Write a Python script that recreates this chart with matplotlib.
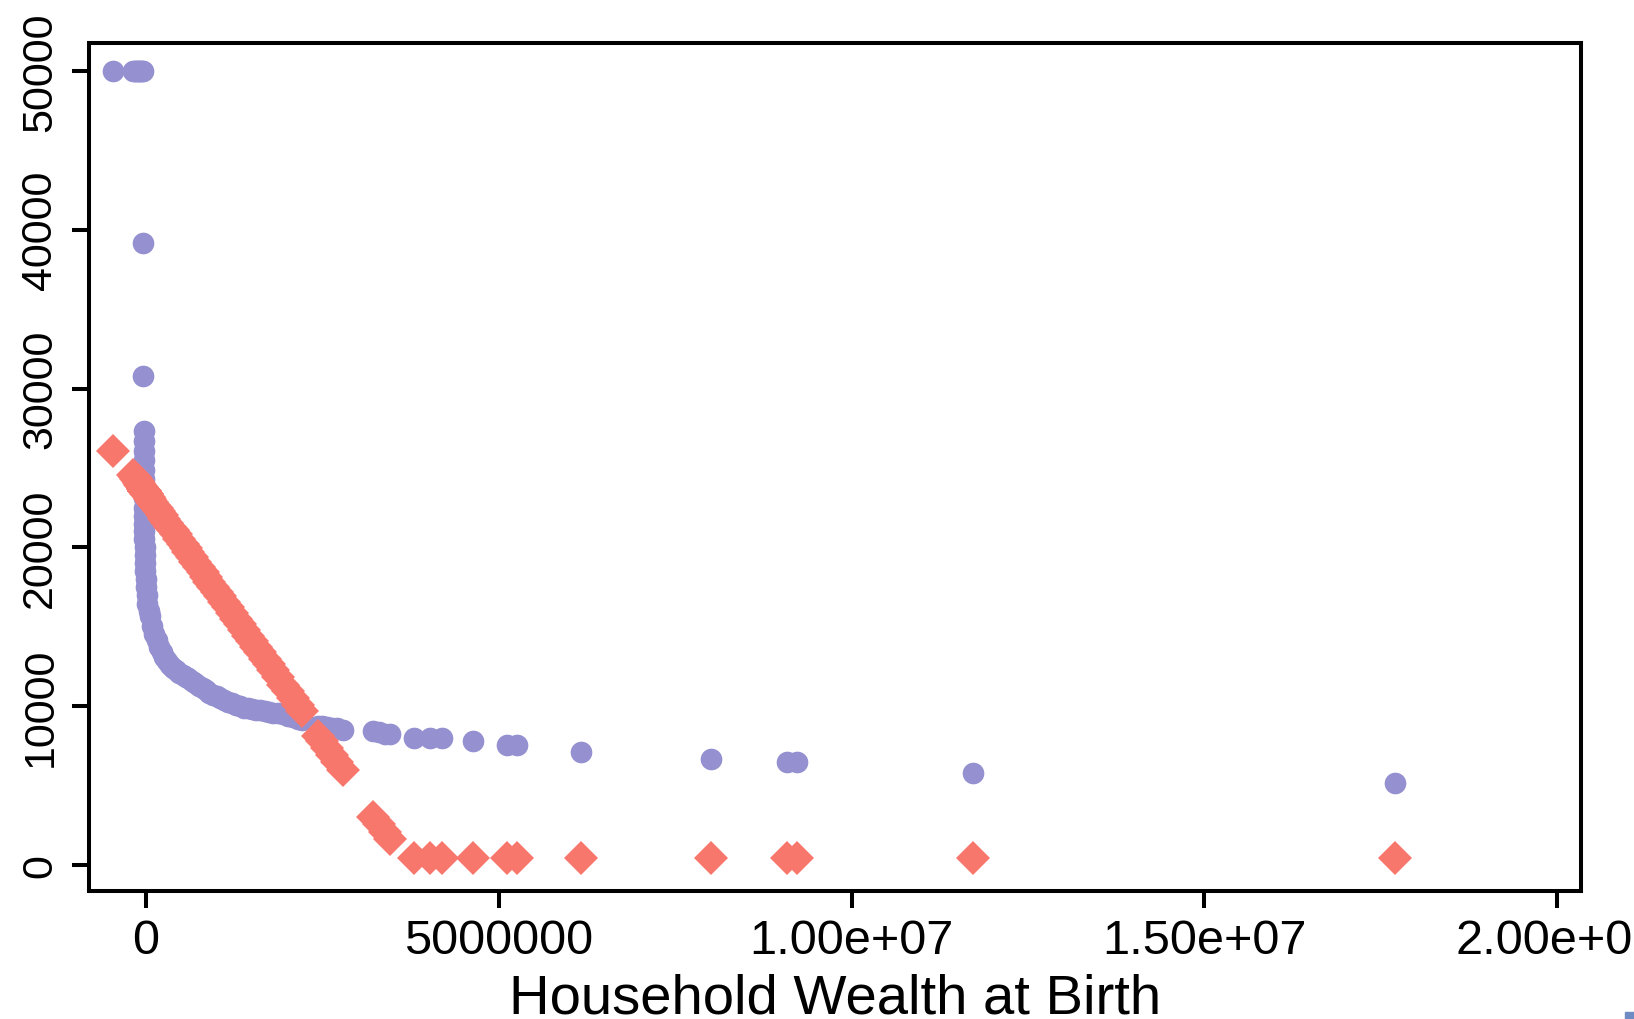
import matplotlib
matplotlib.use('Agg')
import matplotlib.pyplot as plt
from matplotlib.patches import Rectangle

plt.rcParams['font.family'] = ['Liberation Sans', 'DejaVu Sans']

# ---- data ----
wealth = [
    -470000, -184000, -160000, -140000, -120000, -100000, -80000, -60000, -42000,
    -40000, -38000,
    -36000, -35000, -34000, -33000, -32000, -31000, -30000, -29000, -28000,
    -27000, -26000, -25000, -24000, -22000, -20000, -18000,
    -10000, 0, 5000, 10000, 14000,
    40000, 61000, 90000, 118000, 150000, 185000, 222000, 260000, 300000, 340000,
    378000, 420000, 470000, 520000, 560000, 600000, 650000, 700000, 750000, 800000,
    850000, 898000, 950000, 1000000, 1050000, 1105000, 1160000, 1220000, 1280000, 1330000,
    1389000, 1450000, 1500000, 1560000, 1616000, 1680000, 1740000, 1800000, 1870000, 1946000,
    2010000, 2080000, 2150000, 2210000,
    2440000, 2500000, 2570000, 2640000, 2700000, 2790000,
    3220000, 3300000, 3380000, 3450000,
    3800000, 4020000, 4200000, 4630000, 5120000, 5260000, 6160000, 8010000,
    9080000, 9230000, 11720000, 17700000,
]

pred_purple = [
    50000, 50000, 50000, 50000, 50000, 50000, 50000, 50000, 50000,
    39170, 30790,
    27330, 26700, 26100, 25500, 24900, 24300, 23700, 23100, 22500,
    22000, 21500, 21000, 20500, 20000, 19500, 19000,
    18500, 18000, 17500, 17000, 16440,
    16000, 15700, 15050, 14550, 14150, 13750, 13410, 13100, 12850, 12600,
    12400, 12250, 12100, 11950, 11850, 11750, 11600, 11450, 11300, 11150,
    11000, 10850, 10730, 10620, 10500, 10390, 10290, 10190, 10090, 10000,
    9905, 9860, 9820, 9770, 9730, 9680, 9640, 9590, 9540, 9490,
    9400, 9300, 9200, 9100,
    8780, 8740, 8700, 8650, 8600, 8500,
    8410, 8350, 8280, 8220,
    8000, 8000, 8000, 7810, 7560, 7560, 7120, 6680,
    6490, 6490, 5790, 5160,
]

pred_red = [
    26070, 24560, 24410, 24290, 24160, 24040, 23910, 23790, 23680,
    23660, 23650,
    23640, 23630, 23630, 23620, 23610, 23610, 23600, 23590, 23590,
    23580, 23570, 23570, 23560, 23550, 23540, 23530,
    23480, 23420, 23390, 23360, 23330,
    23170, 23040, 22860, 22690, 22490, 22270, 22040, 21810, 21560, 21310,
    21080, 20820, 20510, 20200, 19950, 19700, 19390, 19080, 18770, 18460,
    18150, 17850, 17530, 17220, 16910, 16570, 16230, 15860, 15480, 15170,
    14810, 14430, 14120, 13750, 13400, 13000, 12630, 12260, 11830, 11350,
    10960, 10520, 10090, 9720,
    8150, 7780, 7350, 6900, 6500, 5980,
    3050, 2600, 2100, 1650,
    450, 450, 450, 450, 450, 450, 450, 450,
    450, 450, 450, 450,
]

x_ticks = [0, 5000000, 10000000, 15000000, 20000000]
x_ticklabels = ["0", "5000000", "1.00e+07", "1.50e+07", "2.00e+07"]
y_ticks = [0, 10000, 20000, 30000, 40000, 50000]
y_ticklabels = ["0", "10000", "20000", "30000", "40000", "50000"]
x_label = "Household Wealth at Birth"

# ---- figure ----
fig = plt.figure(figsize=(16.34, 10.2), dpi=100)
ax = fig.add_axes([0.0545, 0.1255, 0.9131, 0.8314])

ax.plot(wealth, pred_purple, ls='none', marker='o', ms=15.6, mew=0,
        color='#9591D1', zorder=2)
ax.plot(wealth, pred_red, ls='none', marker='D', ms=16.9, mew=0,
        color='#F8776D', zorder=3)

ax.set_xlim(-808000, 20337000)
ax.set_ylim(-1637, 51763)

ax.set_xticks(x_ticks)
ax.set_xticklabels(x_ticklabels, fontsize=35)
ax.set_yticks(y_ticks)
ax.set_yticklabels(y_ticklabels, fontsize=31, rotation=90, va='center')

for s in ax.spines.values():
    s.set_linewidth(2.9)
    s.set_color('black')

ax.tick_params(axis='both', direction='out', length=12.2, width=2.9, colors='black')
ax.tick_params(axis='x', pad=7)
ax.tick_params(axis='y', pad=8.5)

fig.text(0.511, 0.0059, x_label, ha='center', va='baseline', fontsize=40.5)

fig.patches.append(Rectangle((0.9945, 0.0), 0.0055, 0.0069,
                             transform=fig.transFigure, color='#6E8CC3',
                             figure=fig))

fig.savefig('out.png', dpi=100)
